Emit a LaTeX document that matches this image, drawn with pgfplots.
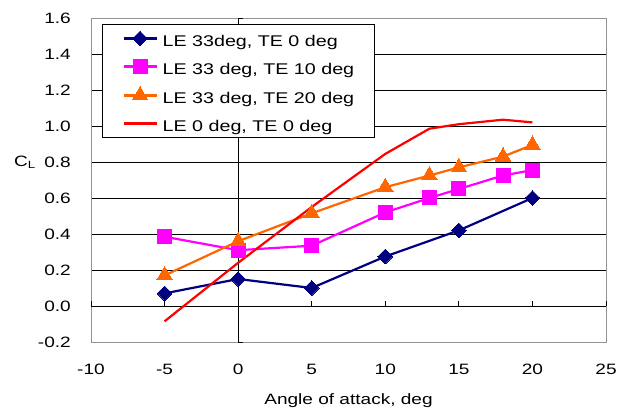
\documentclass[border=0pt]{standalone}
\usepackage{fontspec}
\setmainfont{Liberation Sans}[FakeStretch=1.27]
\usepackage{pgfplots}
\pgfplotsset{compat=1.18}
\definecolor{cnavy}{HTML}{000080}
\definecolor{cmag}{HTML}{FF00FF}
\definecolor{corange}{HTML}{FF6600}
\definecolor{cred}{HTML}{FF0000}
\newcommand{\ff}{\fontsize{15bp}{18bp}\selectfont}
\newcommand{\fl}{\fontsize{15.5bp}{18bp}\selectfont}
\begin{document}
\begin{tikzpicture}
\useasboundingbox (-91bp,-68bp) rectangle (537bp,342bp);
\begin{axis}[
  scale only axis,
  width=515bp, height=324bp,
  xmin=-10, xmax=25, ymin=-0.2, ymax=1.6,
  xtick={-10,-5,...,25},
  ytick={-0.2,0,0.2,...,1.6},
  major tick length=0pt,
  axis line style={draw=gray!85, line width=0.9bp},
  ymajorgrids,
  grid style={black, line width=0.7bp},
  /pgf/number format/assume math mode=true,
  yticklabel style={/pgf/number format/fixed, /pgf/number format/zerofill, /pgf/number format/precision=1},
  tick label style={font=\ff, inner sep=0pt},
  yticklabel style={anchor=east, xshift=-20bp},
  xticklabel style={anchor=north, yshift=-22bp},
  xlabel={Angle of attack, deg},
  xlabel style={font=\ff, inner sep=0pt, at={(axis description cs:0.5,0)}, anchor=north, yshift=-51bp},
  ylabel={C\textsubscript{L}},
  ylabel style={font=\ff, rotate=-90, inner sep=0pt, at={(axis description cs:-0.128,0.555)}, anchor=center},
  legend style={font=\fl, at={(axis description cs:0.0214,0.9815)}, anchor=north west,
    draw=black, line width=0.9bp, inner xsep=20bp, inner ysep=6bp,
    nodes={inner sep=0pt, text height=16bp, text depth=0pt},
    row sep=12bp,
    /tikz/every odd column/.append style={column sep=5bp}},
  legend cell align=left,
  legend image code/.code={\draw[mark repeat=2, mark phase=2] plot coordinates {(0bp,0bp) (16.5bp,0bp) (33bp,0bp)};},
  clip=false,
]
% axis lines through the origin
\draw[black, line width=0.8bp] (axis cs:-10,0) -- (axis cs:25,0);
\draw[black, line width=0.8bp] (axis cs:0,-0.2) -- (axis cs:0,1.6);
\pgfplotsinvokeforeach{-10,-5,0,5,10,15,20,25}{\draw[black, line width=0.8bp] (axis cs:#1,0) -- ([yshift=5bp]axis cs:#1,0);}
\pgfplotsinvokeforeach{-0.2,0,0.2,0.4,0.6,0.8,1.0,1.2,1.4,1.6}{\draw[black, line width=0.8bp] (axis cs:0,#1) -- ([xshift=5bp]axis cs:0,#1);}

\addplot[cnavy, line width=2.2bp, mark=square*, mark size=5.2bp, mark options={solid, rotate=45, fill=cnavy, draw=cnavy, line width=0pt}]
  coordinates {(-5,0.07) (0,0.15) (5,0.10) (10,0.275) (15,0.42) (20,0.60)};
\addlegendentry{LE 33deg, TE 0 deg}
\addplot[cmag, line width=2.2bp, mark=square*, mark size=7bp, mark options={solid, fill=cmag, draw=cmag, line width=0pt}]
  coordinates {(-5,0.385) (0,0.31) (5,0.335) (10,0.52) (13,0.60) (15,0.65) (18,0.725) (20,0.755)};
\addlegendentry{LE 33 deg, TE 10 deg}
\addplot[corange, line width=2.2bp, mark=triangle*, mark size=9bp, mark options={solid, fill=corange, draw=corange, line width=0pt}]
  coordinates {(-5,0.17) (0,0.36) (5,0.515) (10,0.66) (13,0.725) (15,0.77) (18,0.83) (20,0.895)};
\addlegendentry{LE 33 deg, TE 20 deg}
\addplot[cred, line width=2.2bp, no marks]
  coordinates {(-5,-0.085) (0,0.24) (5,0.55) (10,0.845) (13,0.985) (15,1.01) (18,1.035) (20,1.02)};
\addlegendentry{LE 0 deg, TE 0 deg}
\end{axis}
\end{tikzpicture}
\end{document}
